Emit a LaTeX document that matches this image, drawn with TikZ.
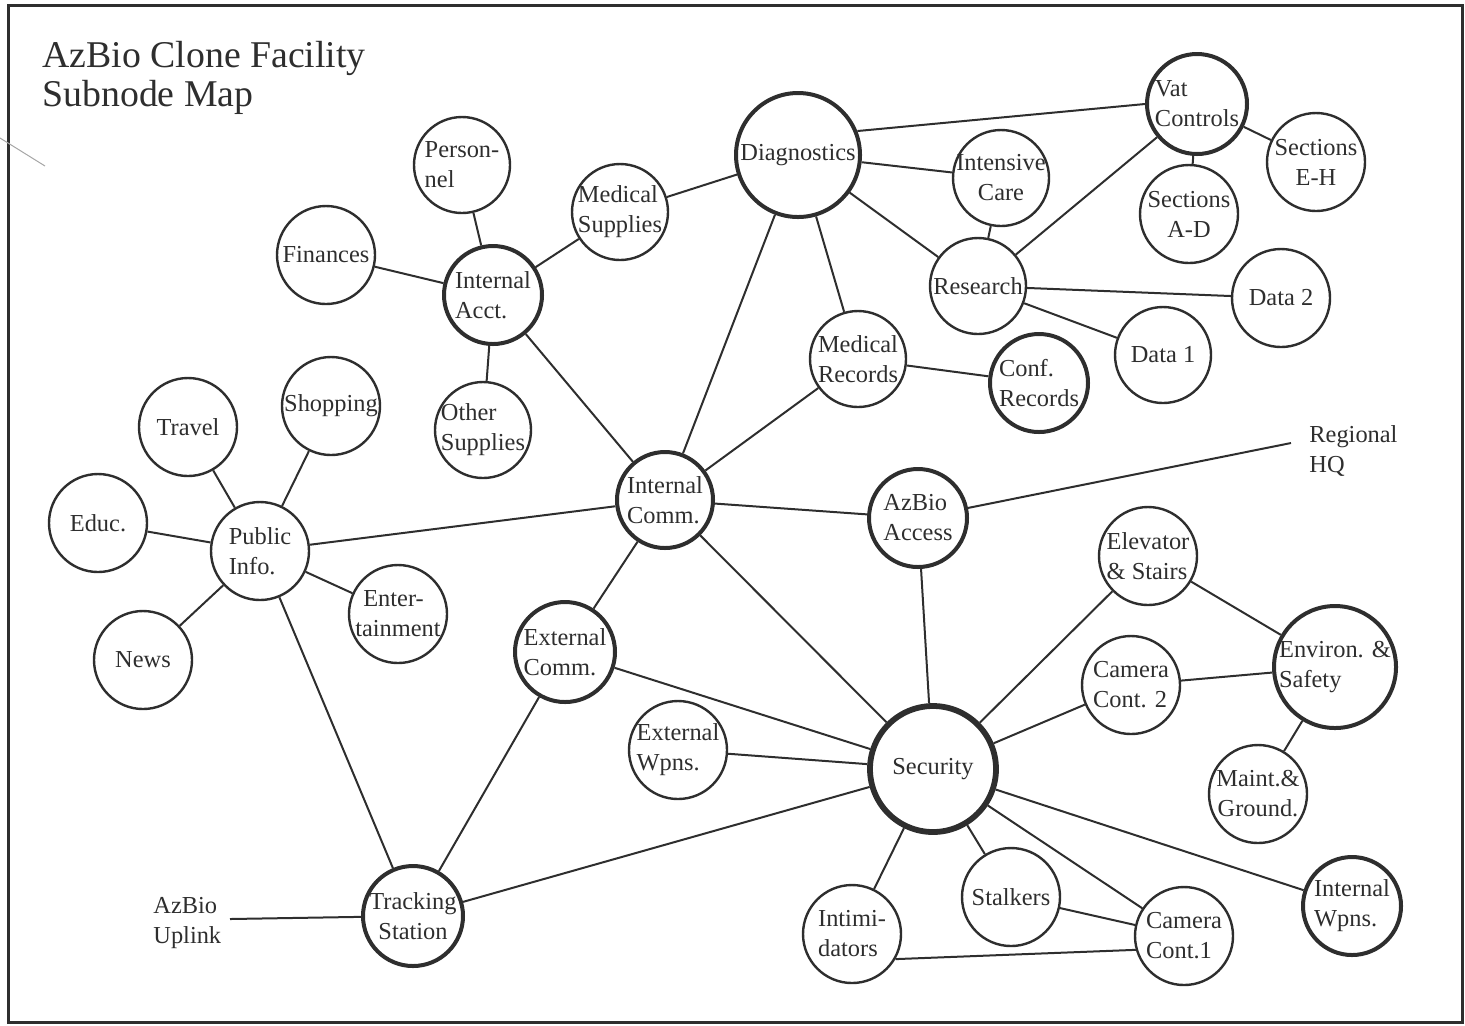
\documentclass[tikz,border=0pt]{standalone}
\usepackage{fontspec}
\setmainfont{Liberation Serif}
\definecolor{ink}{HTML}{2E2E2E}
\newcommand{\cn}[7][left]{%
  \node[circ,minimum size=#5pt,#6] (#2) at (#3,#4) {};%
  \node[txt,align=#1] (#2-t) at (#2.center) {#7};}
\tikzset{
  circ/.style={circle, draw=ink, line width=1.2pt, inner sep=0pt},
  thk/.style={line width=2pt},
  vthk/.style={line width=2.9pt},
  txt/.style={inner sep=0pt, text=ink, font=\fontsize{12.2}{15}\selectfont},
  edge/.style={draw=ink, line width=1pt},
}
\begin{document}
\begin{tikzpicture}[x=0.5pt,y=-0.5pt]
\useasboundingbox (0,0) rectangle (1465,1025);
\draw[ink, line width=1.5pt] (8,5) rectangle (1462,1022);
\draw[black!35, line width=0.5pt] (0,138) -- (45,166);

\node[txt, anchor=north west, align=left, font=\fontsize{18.9}{19.5}\selectfont] (title) at (42,41) {AzBio Clone Facility\\Subnode Map};

% nodes
\cn[center]{diag}{798}{155}{62}{thk}{Diagnostics}
\cn{vat}{1197}{104}{50}{thk}{Vat\\Controls}
\cn[center]{ic}{1001}{178}{48}{}{Intensive\\Care}
\cn[center]{seh}{1316}{162}{49}{}{Sections\\E-H}
\cn[center]{sad}{1189}{214}{49}{}{Sections\\A-D}
\cn[center]{res}{978}{286}{48}{}{Research}
\cn[center]{d2}{1281}{298}{49}{}{Data 2}
\cn[center]{d1}{1163}{355}{48}{}{Data 1}
\cn{pers}{462}{165}{48}{}{Person-\\nel}
\cn{msup}{620}{212}{48}{}{Medical\\Supplies}
\cn[center]{fin}{326}{255}{49}{}{Finances}
\cn{iacct}{493}{295}{49}{thk}{Internal\\Acct.}
\cn{other}{483}{430}{48}{}{Other\\Supplies}
\cn{mrec}{858}{359}{48}{}{Medical\\Records}
\cn{conf}{1039}{383}{49}{thk}{Conf.\\Records}
\cn[center]{shop}{331}{406}{49}{}{Shopping}
\cn[center]{trav}{188}{427}{49}{}{Travel}
\cn[center]{educ}{98}{523}{49}{}{Educ.}
\cn{pub}{260}{551}{49}{}{Public\\Info.}
\cn{icomm}{665}{500}{48}{thk}{Internal\\Comm.}
\cn{access}{918}{518}{49}{thk}{AzBio\\Access}
\cn{elev}{1148}{556}{49}{}{Elevator\\\& Stairs}
\cn{ent}{398}{614}{49}{}{\hspace{4pt}Enter-\\tainment}
\cn[center]{news}{143}{660}{49}{}{News}
\cn{ecomm}{565}{652}{50}{thk}{External\\Comm.}
\cn{cam2}{1131}{685}{49}{}{Camera\\Cont. 2}
\cn{env}{1335}{667}{61}{thk}{Environ. \&\\Safety}
\cn{ewpn}{678}{750}{49}{}{External\\Wpns.}
\cn[center]{sec}{933}{769}{63}{vthk}{Security}
\cn[center]{maint}{1258}{794}{49}{}{Maint.\&\\Ground.}
\cn[center]{stalk}{1011}{897}{49}{}{Stalkers}
\cn{intim}{852}{934}{49}{}{Intimi-\\dators}
\cn{cam1}{1184}{936}{49}{}{Camera\\Cont.1}
\cn{iwpn}{1352}{906}{49}{thk}{Internal\\Wpns.}
\cn[center]{track}{413}{916}{50}{thk}{Tracking\\Station}

\node[txt, anchor=west, align=left] (hq) at (1309,451) {Regional\\HQ};
\coordinate (hqend) at (1291,443);
\node[txt, anchor=west, align=left] (uplink) at (153,923) {AzBio\\Uplink};
\coordinate (upend) at (230,919);

% edges
\draw[edge] (diag.22) -- (vat.180);
\draw[edge] (intim.-30) -- (cam1.196);
\foreach \a/\b in {diag/ic, diag/res, diag/msup, diag/icomm, diag/mrec,
  vat/seh, vat/sad, vat/res, ic/res, res/d2, res/d1,
  pers/iacct, msup/iacct, fin/iacct, iacct/other, iacct/icomm,
  mrec/conf, mrec/icomm,
  pub/trav, pub/shop, pub/educ, pub/news, pub/ent, pub/icomm, pub/track,
  icomm/access, icomm/ecomm, icomm/sec,
  access/sec, ecomm/sec, ecomm/track, ewpn/sec, sec/track,
  sec/elev, sec/cam2, sec/intim, sec/stalk, sec/cam1, sec/iwpn,
  elev/env, cam2/env, env/maint, stalk/cam1}
  \draw[edge] (\a) -- (\b);
\draw[edge] (access) -- (hqend);
\draw[edge] (upend) -- (track);
\end{tikzpicture}
\end{document}
